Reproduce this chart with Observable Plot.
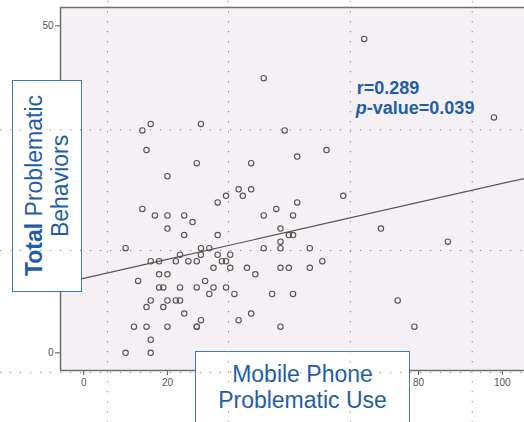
<!DOCTYPE html>
<html>
<head>
<meta charset="utf-8">
<script src="https://cdn.jsdelivr.net/npm/d3@7"></script>
<script src="https://cdn.jsdelivr.net/npm/@observablehq/plot@0.6"></script>
<style>
  html, body { margin: 0; padding: 0; background: #ffffff; }
  #wrap { position: relative; width: 524px; height: 422px; overflow: hidden; font-family: "Liberation Sans", Arial, sans-serif; }
  #chart, #guides { position: absolute; left: 0; top: 0; }
  #guides { pointer-events: none; }
  .box { position: absolute; box-sizing: border-box; background: #ffffff; border: 1.5px solid #3a7bbf; color: #1f5ea8; font-size: 23px; line-height: 26px; display: flex; align-items: center; justify-content: center; text-align: center; }
  #ybox { left: 12px; top: 80px; width: 70px; height: 212px; }
  #ybox span { writing-mode: vertical-rl; transform: rotate(180deg); white-space: nowrap; }
  #xbox { left: 195px; top: 351px; width: 215px; height: 72px; }
</style>
</head>
<body>
<div id="wrap">
  <div id="chart"></div>
  <div class="box" id="ybox"><span><b>Total</b> Problematic<br>Behaviors</span></div>
  <div class="box" id="xbox"><span>Mobile Phone<br>Problematic Use</span></div>
  <div id="guides"></div>
</div>
<script>
// Mobile phone problematic use (x) vs total problematic behaviors (y)
const phoneUse = [
  16,14,28,15,27,20,37,34,32,14,
  17,20,24,26,20,24,32,10,28,30,
  23,28,32,35,16,18,22,25,27,33,
  34,31,35,18,20,13,29,18,19,23,
  27,31,34,30,36,16,20,22,23,15,
  19,24,28,37,12,15,20,27,27,16,
  10,16,
  48,58,51,40,40,38,62,51,46,43,50,47,49,50,47,43,47,54,57,39,41,47,49,54,45,50,40,47,
  67,43,98,71,87,75,79
];
const behaviors = [
  35,34,35,31,29,27,25,24,23,22,
  21,21,21,20,19,18,18,16,16,16,
  15,15,15,15,14,14,14,14,14,14,
  14,13,13,12,12,11,11,10,10,10,
  10,10,10,9,9,8,8,8,8,7,
  7,6,5,5,4,4,4,4,4,2,
  0,0,
  34,31,30,29,25,24,24,23,22,21,21,19,18,18,17,16,16,16,14,13,12,13,13,13,9,9,6,4,
  48,42,36,19,17,8,4
];
// visible tick labels (the others are covered by the title boxes)
const xTicks = [0, 20, 80, 100];
const yTicks = [0, 50];
const fitIntercept = 11.4;
const fitSlope = 0.145;
const statR = "r=0.289";
const statP = "p";
const statPRest = "-value=0.039";
// PowerPoint slide gridlines visible in the screenshot
const guideX = [5.66, 34.6, 63.7, 92.8];
const guideY = [34.1, 15.64, -3.0];

const xDomain = [-5.55, 105.3];
const yDomain = [-2.7, 52.8];
const svgXExtent = [-19.9, 105.3];
const svgYExtent = [-10.7, 53.9];

const points = phoneUse.map((x, i) => ({x, y: behaviors[i]}));
const fitLine = xDomain.map(x => ({x, y: fitIntercept + fitSlope * x}));
const blue = "#1f5ea8";

const common = {
  width: 524,
  height: 422,
  marginLeft: 60,
  marginRight: 0,
  marginTop: 7,
  marginBottom: 52,
  style: {fontFamily: "'Liberation Sans', Arial, sans-serif", fontSize: "10px", color: "#555", background: "transparent", overflow: "visible"}
};

const chart = Plot.plot({
  ...common,
  x: {domain: xDomain, ticks: xTicks, tickSize: 5, tickPadding: 3, label: null},
  y: {domain: yDomain, ticks: yTicks, tickSize: 5, tickPadding: 2, label: null},
  marks: [
    Plot.frame({fill: "#f4f0f4", stroke: null}),
    Plot.ruleX([xDomain[0]], {stroke: "#6e6e6e", strokeWidth: 1.5}),
    Plot.ruleY([yDomain[0], yDomain[1]], {stroke: "#6e6e6e", strokeWidth: 1.5}),
    Plot.line(fitLine, {x: "x", y: "y", stroke: "#555", strokeWidth: 1.2}),
    Plot.dot(points, {x: "x", y: "y", r: 2.7, stroke: "#555", strokeWidth: 1.1, fill: "none"}),
    Plot.text([statR], {x: 65.2, y: 40.5, text: d => d, textAnchor: "start", lineAnchor: "middle", fontSize: 18, fontWeight: "bold", fill: blue}),
    Plot.text([statP], {x: 65.0, y: 37.4, text: d => d, textAnchor: "start", lineAnchor: "middle", fontSize: 18, fontWeight: "bold", fontStyle: "italic", fill: blue}),
    Plot.text([statPRest], {x: 65.0, y: 37.4, dx: 11, text: d => d, textAnchor: "start", lineAnchor: "middle", fontSize: 18, fontWeight: "bold", fill: blue})
  ]
});
document.getElementById("chart").appendChild(chart);

const guides = Plot.plot({
  ...common,
  x: {domain: xDomain, axis: null},
  y: {domain: yDomain, axis: null},
  marks: [
    Plot.ruleX(guideX, {y1: svgYExtent[0], y2: svgYExtent[1], stroke: "#8a8a8a", strokeWidth: 1, strokeDasharray: "1.3,8.7"}),
    Plot.ruleY(guideY, {x1: svgXExtent[0], x2: svgXExtent[1], stroke: "#8a8a8a", strokeWidth: 1, strokeDasharray: "1.3,8.7"})
  ]
});
document.getElementById("guides").appendChild(guides);
</script>
</body>
</html>
